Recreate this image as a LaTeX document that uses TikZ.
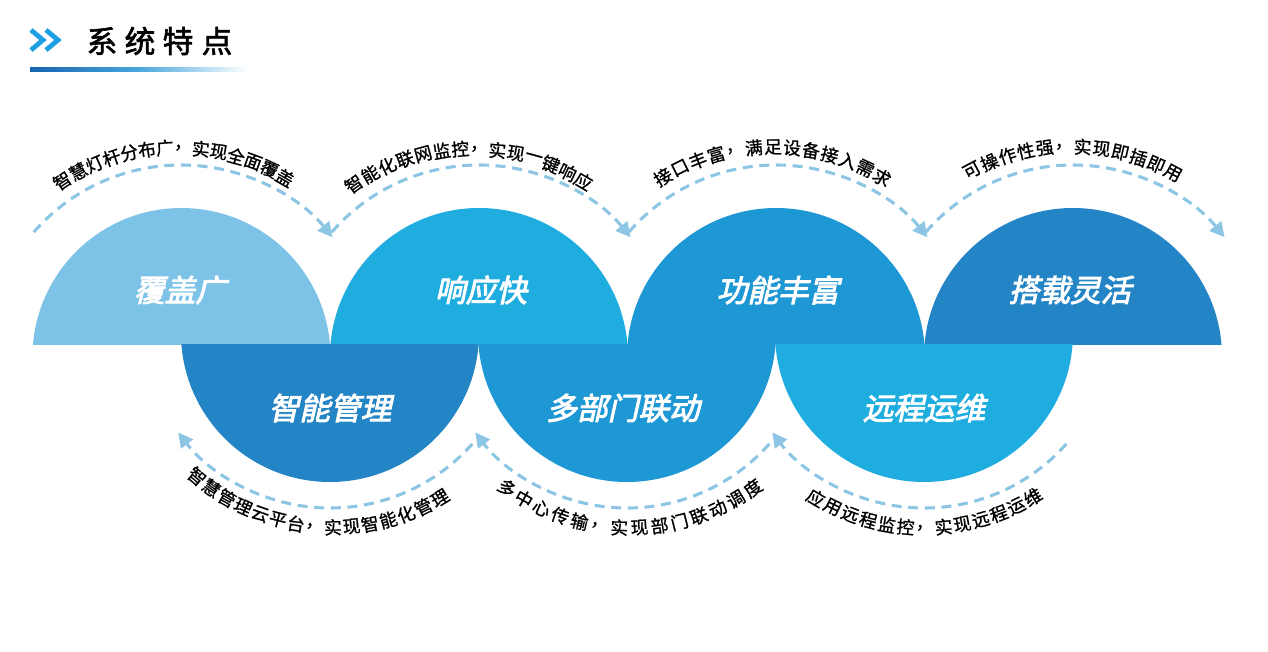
\documentclass[tikz,border=0pt]{standalone}
\usepackage{fontspec}
\setmainfont{Noto Sans CJK SC}
\newfontfamily\labfont{Noto Sans CJK SC}[FakeSlant=0.22,FakeBold=3]
\newfontfamily\titfont{Noto Sans CJK SC}[FakeBold=2]
\newfontfamily\arcfont{Noto Sans CJK SC}[FakeBold=1]
\usetikzlibrary{arrows.meta}
\definecolor{cA}{HTML}{7DC3E7}
\definecolor{cB}{HTML}{1FADDF}
\definecolor{cC}{HTML}{1E97D5}
\definecolor{cD}{HTML}{2384C6}
\definecolor{dashc}{HTML}{8CC6E4}
\definecolor{chev}{HTML}{1E9FE3}
\definecolor{ulA}{HTML}{1565B0}
\definecolor{ulB}{HTML}{4AA6DD}
\tikzset{
  dasharc/.style={draw=dashc, line width=2.3pt, dash pattern=on 7.5pt off 5pt,
    -{Triangle[length=11pt,width=11pt,fill=dashc]}},
  arcch/.style={inner sep=0pt, font=\arcfont\fontsize{13.3}{13.5}\selectfont, text=black},
  lab/.style={inner sep=0pt, text=white, font=\labfont\fontsize{23}{24}\selectfont},
  titch/.style={inner sep=0pt, text=black, font=\titfont\fontsize{23}{24}\selectfont},
}
\begin{document}
\begin{tikzpicture}[x=0.75pt,y=0.75pt]
\useasboundingbox (0,0) rectangle (1268,-651);
\fill[white] (0,0) rectangle (1268,-651);

% title
\draw[chev, line width=3.6pt, miter limit=10] (31,-30) -- (43,-40) -- (31,-50);
\draw[chev, line width=3.6pt, miter limit=10] (46,-30) -- (58,-40) -- (46,-50);
\foreach \c/\x [count=\i] in {系/102,统/140,特/178,点/217}
  \node[titch] (tit\i) at (\x,-41) {\c};
\shade[left color=ulA, right color=white, middle color=ulB] (30,-67) rectangle (248,-71);

% top half discs
\begin{scope}
\clip (0,0) rectangle (1268,-344);
\fill[cA] (181.5,-357) circle (149);
\fill[cB] (479,-357) circle (149);
\fill[cC] (776,-357) circle (149);
\fill[cD] (1073,-357) circle (149);
\end{scope}
% bottom half discs
\begin{scope}
\clip (0,-344) rectangle (1268,-651);
\fill[cD] (330,-333) circle (149);
\fill[cC] (627,-333) circle (149);
\fill[cB] (924,-333) circle (149);
\end{scope}

% labels
\node[lab] (l1) at (180,-290) {覆盖广};
\node[lab] (l2) at (481,-290) {响应快};
\node[lab] (l3) at (778,-290) {功能丰富};
\node[lab] (l4) at (1070,-290) {搭载灵活};
\node[lab] (l5) at (330,-408) {智能管理};
\node[lab] (l6) at (623,-408) {多部门联动};
\node[lab] (l7) at (924,-408) {远程运维};

% dashed arcs (top)
\foreach \cx in {181,479,776,1073}
  \draw[dasharc] ([shift={(139:195)}]\cx,-360) arc[start angle=139,end angle=39,radius=195];
% dashed arcs (bottom)
\foreach \cx in {330,627,924}
  \draw[dasharc] ([shift={(-41.5:190)}]\cx,-318) arc[start angle=-41.5,end angle=-143,radius=190];

% top arc texts
\foreach \c [count=\i from 0] in {智,慧,灯,杆,分,布,广,，,实,现,全,面,覆,盖}{
  \pgfmathsetmacro\a{123.5+\i*(60.3-123.5)/13}
  \pgfmathsetmacro\r{215+\i*(210-215)/13}
  \node[arcch, rotate=\a-90] (ta\i) at ([shift={(\a:\r)}]181,-360) {\c};
}
\foreach \c [count=\i from 0] in {智,能,化,联,网,监,控,，,实,现,一,键,响,应}{
  \pgfmathsetmacro\a{125.4+\i*(59.7-125.4)/13}
  \pgfmathsetmacro\r{216+\i*(207-216)/13}
  \node[arcch, rotate=\a-90] (tb\i) at ([shift={(\a:\r)}]479,-360) {\c};
}
\foreach \c [count=\i from 0] in {接,口,丰,富,，,满,足,设,备,接,入,需,求}{
  \pgfmathsetmacro\a{121.7+\i*(59.9-121.7)/12}
  \pgfmathsetmacro\r{215+\i*(211-215)/12}
  \node[arcch, rotate=\a-90] (tc\i) at ([shift={(\a:\r)}]776,-360) {\c};
}
\foreach \c [count=\i from 0] in {可,操,作,性,强,，,实,现,即,插,即,用}{
  \pgfmathsetmacro\a{118+\i*(61.9-118)/11}
  \pgfmathsetmacro\r{215+\i*(212-215)/11}
  \node[arcch, rotate=\a-90] (td\i) at ([shift={(\a:\r)}]1073,-360) {\c};
}
% bottom arc texts
\foreach \c [count=\i from 0] in {智,慧,管,理,云,平,台,，,实,现,智,能,化,管,理}{
  \pgfmathsetmacro\a{-130+\i*(-58.6+130)/14}
  \pgfmathsetmacro\r{207+\i*(211-207)/14}
  \node[arcch, rotate=\a+90] (be\i) at ([shift={(\a:\r)}]330,-318) {\c};
}
\foreach \c [count=\i from 0] in {多,中,心,传,输,，,实,现,部,门,联,动,调,度}{
  \pgfmathsetmacro\a{-125.2+\i*(-53.5+125.2)/13}
  \pgfmathsetmacro\r{208+\i*(211.6-208)/13}
  \node[arcch, rotate=\a+90] (bf\i) at ([shift={(\a:\r)}]627,-318) {\c};
}
\foreach \c [count=\i from 0] in {应,用,远,程,监,控,，,实,现,远,程,运,维}{
  \pgfmathsetmacro\a{-121+\i*(-58.7+121)/12}
  \pgfmathsetmacro\r{210+\i*(209.6-210)/12}
  \node[arcch, rotate=\a+90] (bg\i) at ([shift={(\a:\r)}]924,-318) {\c};
}
\end{tikzpicture}
\end{document}
